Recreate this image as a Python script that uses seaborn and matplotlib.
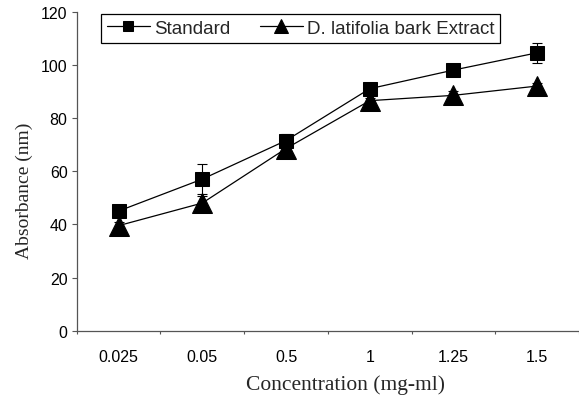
import matplotlib.pyplot as plt
import numpy as np
import pandas as pd
import seaborn as sns

concentrations = ["0.025", "0.05", "0.5", "1", "1.25", "1.5"]
standard = [45.0, 57.0, 71.5, 91.0, 98.0, 104.5]
standard_err = [1.0, 5.5, 2.5, 1.0, 1.0, 3.7]
extract = [39.5, 48.0, 68.5, 86.5, 88.5, 92.0]
extract_err = [1.5, 2.5, 1.0, 1.0, 1.5, 1.0]
series_names = ["Standard", "D. latifolia bark Extract"]

df = pd.DataFrame({
    "Concentration": concentrations * 2,
    "Absorbance": standard + extract,
    "err": standard_err + extract_err,
    "Series": [series_names[0]] * 6 + [series_names[1]] * 6,
})

sns.set_theme(style="white")
plt.rcParams["font.family"] = ["Liberation Sans", "DejaVu Sans"]

fig = plt.figure(figsize=(5.79, 4.06), dpi=100)
ax = fig.add_axes([0.1325, 0.183, 0.8675, 0.786])

marker_styles = {series_names[0]: ("s", 10.5), series_names[1]: ("^", 14)}
for name, (mk, ms) in marker_styles.items():
    sub = df[df["Series"] == name]
    sns.lineplot(
        data=sub, x="Concentration", y="Absorbance", color="black",
        marker=mk, markersize=ms, markeredgecolor="black", linewidth=0.9,
        label=name, errorbar=None, sort=False, ax=ax,
    )
    pos = [concentrations.index(c) for c in sub["Concentration"]]
    ax.errorbar(pos, sub["Absorbance"], yerr=sub["err"], fmt="none",
                ecolor="black", elinewidth=0.8, capsize=3.5, capthick=0.8, zorder=1)

ax.set_xlim(-0.5, 5.5)
ax.set_ylim(0, 120)
ax.set_yticks(np.arange(0, 121, 20))
ax.set_xticks(np.arange(-0.5, 5.6, 1), minor=False)
ax.set_xticklabels([])
ax.set_xticks(range(len(concentrations)), minor=True)
ax.set_xticklabels(concentrations, minor=True)
ax.tick_params(axis="x", which="major", length=2.5, width=0.8, color="#555555", direction="out", bottom=True)
ax.tick_params(axis="x", which="minor", length=0, pad=13, labelsize=11.5, labelcolor="black")
ax.tick_params(axis="y", length=3.6, width=0.8, color="#555555", direction="out", left=True,
               labelsize=11.5, labelcolor="black", pad=3)

for side in ["top", "right"]:
    ax.spines[side].set_visible(False)
for side in ["left", "bottom"]:
    ax.spines[side].set_color("#555555")
    ax.spines[side].set_linewidth(0.9)

ax.set_xlabel("Concentration (mg-ml)", family=["Liberation Serif"], fontsize=15.5)
ax.set_ylabel("Absorbance (nm)", family=["Liberation Serif"], fontsize=14)
ax.xaxis.set_label_coords(0.536, -0.135)
ax.yaxis.set_label_coords(-0.088, 0.44)

handles, labels = ax.get_legend_handles_labels()
leg = ax.legend(handles, labels, loc="upper left", bbox_to_anchor=(0.03, 1.021),
                ncol=2, frameon=True, fancybox=False, fontsize=13.5, handlelength=2.3,
                handletextpad=0.2, columnspacing=1.6, borderpad=0.3, framealpha=1,
                markerscale=0.7)
leg.get_frame().set_edgecolor("black")
leg.get_frame().set_linewidth(0.9)

fig.savefig("out.png", dpi=100)
